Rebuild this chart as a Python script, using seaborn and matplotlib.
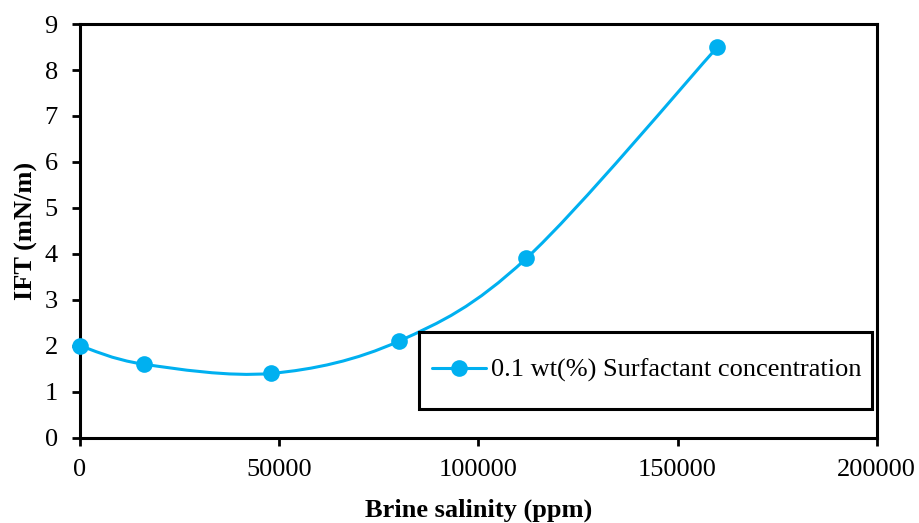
import numpy as np
import pandas as pd
import matplotlib
matplotlib.use("Agg")
import matplotlib.pyplot as plt
import seaborn as sns
from matplotlib.path import Path
from matplotlib.patches import PathPatch, Rectangle
from matplotlib.lines import Line2D

# Data
salinity = [0, 16000, 48000, 80000, 112000, 160000]
ift = [2.0, 1.6, 1.4, 2.1, 3.9, 8.5]
seriesName = "0.1 wt(%) Surfactant concentration"

lineColor = "#00B0F0"


def smoothPath(xs, ys):
    # Excel-style smoothed line: cubic Bezier segments through each point
    pts = np.column_stack([xs, ys]).astype(float)
    n = len(pts)
    verts = [pts[0]]
    codes = [Path.MOVETO]
    for i in range(n - 1):
        p0 = pts[i - 1] if i > 0 else pts[i]
        p1 = pts[i]
        p2 = pts[i + 1]
        p3 = pts[i + 2] if i + 2 < n else pts[i + 1]
        c1 = p1 + (p2 - p0) / 6.0
        c2 = p2 - (p3 - p1) / 6.0
        verts += [c1, c2, p2]
        codes += [Path.CURVE4] * 3
    return Path(verts, codes)


def makeChart() -> None:
    sns.set_style("white")
    plt.rcParams["font.family"] = ["Liberation Serif", "DejaVu Serif"]
    plt.rcParams["text.color"] = "black"
    plt.rcParams["axes.labelcolor"] = "black"

    df = pd.DataFrame({"salinity": salinity, "ift": ift})
    fontSize = 19

    fig, ax = plt.subplots(figsize=(9.2, 5.23), dpi=100)
    fig.subplots_adjust(left=0.087, right=0.953, top=0.954, bottom=0.163)

    # Smoothed connecting line
    patch = PathPatch(smoothPath(df["salinity"], df["ift"]), facecolor="none",
                      edgecolor=lineColor, lw=2.2, zorder=2)
    ax.add_patch(patch)

    # Markers
    sns.lineplot(data=df, x="salinity", y="ift", ax=ax, marker="o",
                 markersize=12, markeredgewidth=0, color=lineColor,
                 linestyle="", zorder=3, clip_on=False)

    ax.set_xlim(0, 200000)
    ax.set_ylim(0, 9)
    ax.set_xticks(range(0, 200001, 50000))
    ax.set_yticks(range(0, 10))

    ax.set_xlabel("Brine salinity (ppm)", fontsize=fontSize, fontweight="bold", labelpad=13)
    ax.set_ylabel("IFT (mN/m)", fontsize=fontSize, fontweight="bold", labelpad=5)

    ax.tick_params(axis="both", direction="out", length=6, width=2,
                   labelsize=fontSize, colors="black", left=True, bottom=True)
    ax.tick_params(axis="x", pad=9)
    ax.tick_params(axis="y", pad=10)
    for side in ["left", "right", "top", "bottom"]:
        ax.spines[side].set_visible(True)
        ax.spines[side].set_color("black")
        ax.spines[side].set_linewidth(2.2)

    # Legend box drawn as its own frame, entry placed inside
    ax.add_patch(Rectangle((0.4254, 0.07), 0.5686, 0.186, transform=ax.transAxes,
                           facecolor="white", edgecolor="black", lw=2.2, zorder=4))
    handle = Line2D([], [], color=lineColor, lw=2.2, marker="o",
                    markersize=12, markeredgewidth=0)
    leg = ax.legend([handle], [seriesName], loc="center left",
                    bbox_to_anchor=(0.4417, 0.163), fontsize=fontSize, frameon=False,
                    borderpad=0, handlelength=2.05, handletextpad=0.2,
                    borderaxespad=0)
    leg.set_zorder(5)

    fig.savefig("out.png", dpi=100)
    plt.close(fig)


if __name__ == "__main__":
    makeChart()
